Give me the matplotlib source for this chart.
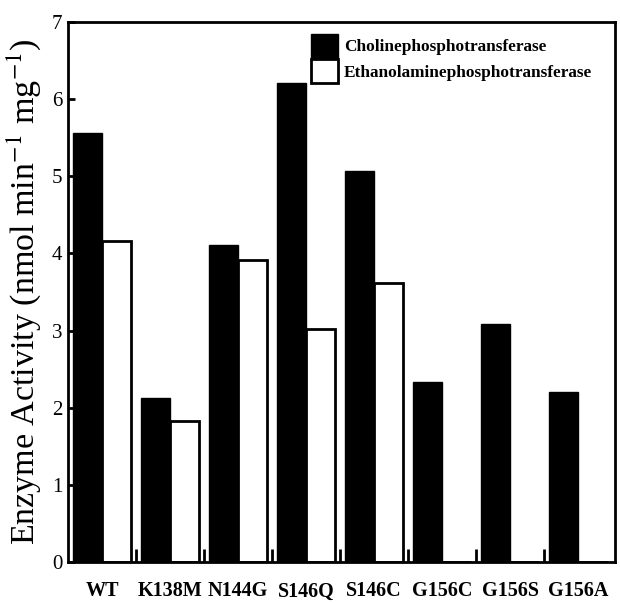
import matplotlib
matplotlib.use("Agg")
import matplotlib.pyplot as plt
from matplotlib.patches import Patch
import numpy as np

categories = ["WT", "K138M", "N144G", "S146Q", "S146C", "G156C", "G156S", "G156A"]
choline = [5.56, 2.12, 4.11, 6.21, 5.07, 2.33, 3.09, 2.20]
ethanolamine = [4.16, 1.83, 3.92, 3.02, 3.62, 0.0, 0.0, 0.0]
yticks = [0, 1, 2, 3, 4, 5, 6, 7]

serif = ["Liberation Serif", "DejaVu Serif"]
plt.rcParams["mathtext.fontset"] = "stix"

fig = plt.figure(figsize=(6.20, 6.03), dpi=100)
ax = fig.add_axes([68/620, (603-562)/603, 547/620, 540/603])

x = np.arange(len(categories))
w = 0.43
ax.bar(x - w/2, choline, w, color="black", edgecolor="black", linewidth=1.0)
ax.bar(x + w/2, ethanolamine, w, color="white", edgecolor="black", linewidth=2.0)

ax.set_xlim(-0.5, 7.54)
ax.set_ylim(0, 7)
ax.set_yticks(yticks)
ax.set_yticklabels([str(v) for v in yticks], family=serif, fontsize=15)
ax.set_xticks(x)
ax.set_xticklabels(categories, family=serif, fontsize=14.5, fontweight="bold")
ax.set_xticks(x[:-1] + 0.5, minor=True)
ax.tick_params(axis="x", which="major", length=0, pad=14)
ax.tick_params(axis="x", which="minor", direction="in", length=9.5, width=2)
ax.tick_params(axis="y", which="major", direction="in", length=5, width=2, pad=4)

for s in ax.spines.values():
    s.set_linewidth(2)

ax.set_ylabel("Enzyme Activity (nmol min$^{-1}$ mg$^{-1}$)", family=serif,
              fontsize=24.5, labelpad=6)

handles = [Patch(facecolor="black", edgecolor="black", label="Cholinephosphotransferase"),
           Patch(facecolor="white", edgecolor="black", linewidth=2, label="Ethanolaminephosphotransferase")]
leg = ax.legend(handles=handles, loc="upper left", bbox_to_anchor=(0.445, 0.978),
                frameon=False, borderpad=0, borderaxespad=0,
                handlelength=1.55, handleheight=1.75, handletextpad=0.35,
                labelspacing=0.1, prop={"family": serif, "weight": "bold", "size": 12.4})

fig.savefig("out.png", dpi=100)
